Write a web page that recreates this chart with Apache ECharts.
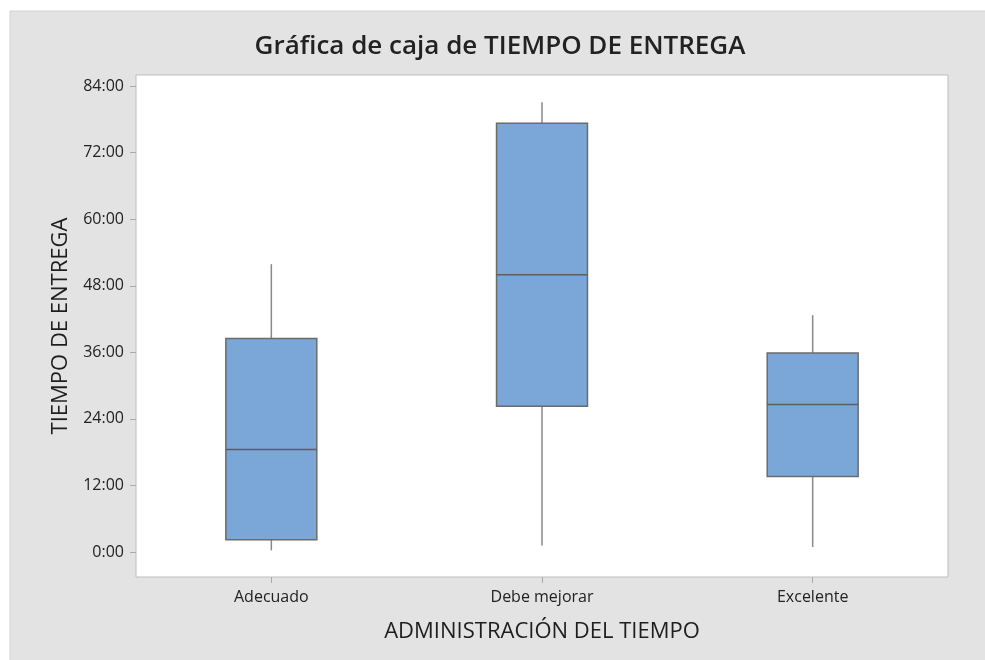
<!DOCTYPE html>
<html>
<head>
<meta charset="utf-8">
<script src="https://cdn.jsdelivr.net/npm/echarts@6/dist/echarts.min.js"></script>
<style>
  html, body { margin: 0; padding: 0; background: #fff; }
  #chart { width: 985px; height: 660px; }
</style>
</head>
<body>
<div id="chart"></div>
<script>
// Delivery time (hours) by time-management rating
const categories = ['Adecuado', 'Debe mejorar', 'Excelente'];
const minVals    = [0.3, 1.2, 0.9];
const q1Vals     = [2.2, 26.3, 13.6];
const medianVals = [18.5, 50.0, 26.6];
const q3Vals     = [38.5, 77.3, 35.9];
const maxVals    = [51.9, 81.1, 42.7];
const yTicks     = [0, 12, 24, 36, 48, 60, 72, 84];

const boxData = categories.map((c, i) =>
  [i, minVals[i], q1Vals[i], medianVals[i], q3Vals[i], maxVals[i]]);

const FONT = '"Open Sans", "Noto Sans", sans-serif';

function renderBox(params, api) {
  const idx = api.value(0);
  const pMin = api.coord([idx, api.value(1)]);
  const pQ1 = api.coord([idx, api.value(2)]);
  const pMed = api.coord([idx, api.value(3)]);
  const pQ3 = api.coord([idx, api.value(4)]);
  const pMax = api.coord([idx, api.value(5)]);
  const half = api.size([1, 0])[0] * 0.336 / 2;
  const x = pQ1[0];
  const whisker = { stroke: '#8a8a8a', lineWidth: 1.5 };
  return {
    type: 'group',
    children: [
      { type: 'line', shape: { x1: x, y1: pMax[1], x2: x, y2: pQ3[1] }, style: whisker },
      { type: 'line', shape: { x1: x, y1: pQ1[1], x2: x, y2: pMin[1] }, style: whisker },
      { type: 'rect',
        shape: { x: x - half, y: pQ3[1], width: half * 2, height: pQ1[1] - pQ3[1] },
        style: { fill: '#7ba6d8', stroke: '#6b6b6b', lineWidth: 1.5 } },
      { type: 'line', shape: { x1: x - half, y1: pMed[1], x2: x + half, y2: pMed[1] },
        style: { stroke: '#5e5e5e', lineWidth: 1.5 } }
    ]
  };
}

const chart = echarts.init(document.getElementById('chart'), null, { renderer: 'canvas' });
chart.setOption({
  backgroundColor: '#ffffff',
  animation: false,
  graphic: [{
    type: 'rect', z: -10, silent: true,
    shape: { x: 10, y: 11, width: 980, height: 655 },
    style: { fill: '#e3e3e3', stroke: '#d2d2d2', lineWidth: 1 }
  }],
  title: {
    text: 'Gráfica de caja de TIEMPO DE ENTREGA',
    left: 495, top: 29, textAlign: 'center',
    textStyle: { fontFamily: FONT, fontSize: 26, fontWeight: 600, color: '#222222' }
  },
  grid: {
    left: 136, top: 75, right: 37, bottom: 83,
    show: true, backgroundColor: '#ffffff', borderColor: '#bdbdbd', borderWidth: 1
  },
  xAxis: {
    type: 'category',
    data: categories,
    name: 'ADMINISTRACIÓN DEL TIEMPO',
    nameLocation: 'middle',
    nameGap: 44,
    nameTextStyle: { fontFamily: FONT, fontSize: 22, color: '#1e1e1e' },
    axisLine: { show: false, onZero: false },
    axisTick: { show: true, alignWithLabel: true, length: 6, lineStyle: { color: '#aaaaaa' } },
    axisLabel: { margin: 12, fontFamily: FONT, fontSize: 16, color: '#222' },
    splitLine: { show: false }
  },
  yAxis: {
    type: 'value',
    min: -4.5,
    max: 86,
    name: 'TIEMPO DE ENTREGA',
    nameLocation: 'middle',
    nameGap: 64,
    nameTextStyle: { fontFamily: FONT, fontSize: 22, color: '#1e1e1e' },
    axisLine: { show: false, onZero: false },
    axisTick: { show: true, length: 6, customValues: yTicks, lineStyle: { color: '#aaaaaa' } },
    axisLabel: {
      margin: 12, fontFamily: FONT, fontSize: 16, color: '#222',
      customValues: yTicks,
      formatter: v => v + ':00'
    },
    splitLine: { show: false }
  },
  series: [{
    type: 'custom',
    renderItem: renderBox,
    encode: { x: 0, y: [1, 2, 3, 4, 5] },
    data: boxData
  }]
});
</script>
</body>
</html>
